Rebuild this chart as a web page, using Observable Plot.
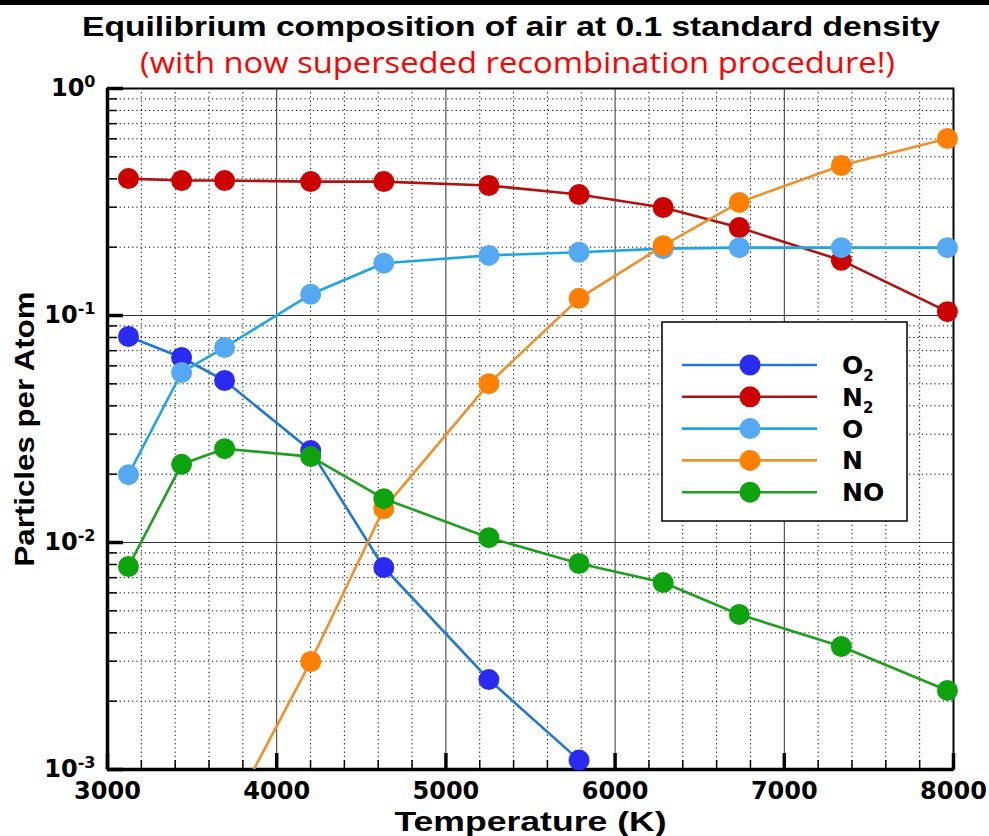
<!DOCTYPE html>
<html><head><meta charset="utf-8">
<script src="https://cdn.jsdelivr.net/npm/d3@7"></script>
<script src="https://cdn.jsdelivr.net/npm/@observablehq/plot@0.6"></script>
<style>
html,body{margin:0;padding:0;background:#fff;}
#wrap{position:relative;width:989px;height:836px;overflow:hidden;}
#bar{position:absolute;left:0;top:0;width:989px;height:5px;background:#000;}
#titles{position:absolute;left:0;top:0;pointer-events:none;}
</style>
</head><body>
<div id="wrap">
<div id="chart"></div>
<div id="bar"></div>
<svg id="titles" width="989" height="90">
  <text x="82" y="36" font-family="Liberation Sans, Arial, sans-serif" font-weight="bold" font-size="28" textLength="858" lengthAdjust="spacingAndGlyphs" fill="#000">Equilibrium composition of air at 0.1 standard density</text>
  <text x="140" y="73" font-family="Open Sans, Noto Sans, sans-serif" font-size="30" textLength="755" lengthAdjust="spacingAndGlyphs" fill="#ff0000">(with now superseded recombination procedure!)</text>
</svg>
</div>
<script>
// ---- data ----
const temps = [3124, 3438, 3692, 4201, 4633, 5254, 5787, 6284, 6734, 7337, 7964];
const o2 = [0.0808, 0.0653, 0.0517, 0.0254, 0.00776, 0.00249, 0.00110];
const n2 = [0.401, 0.393, 0.393, 0.389, 0.389, 0.374, 0.341, 0.299, 0.244, 0.175, 0.104];
const oAtom = [0.0199, 0.0561, 0.0723, 0.124, 0.170, 0.184, 0.190, 0.197, 0.199, 0.199, 0.199];
const nAtom = [null, null, 0.00057, 0.00299, 0.0141, 0.0501, 0.119, 0.203, 0.315, 0.458, 0.602];
const no = [0.00784, 0.0221, 0.0259, 0.0239, 0.0156, 0.0105, 0.00808, 0.00666, 0.00482, 0.00348, 0.00223];
const species = ["O2", "N2", "O", "N", "NO"];
const speciesLabel = [["O", "2"], ["N", "2"], ["O", ""], ["N", ""], ["NO", ""]];
const lineColors = ["#1f78d6", "#b01212", "#1fa6e0", "#f0902a", "#1f9e1f"];
const dotColors = ["#2a2af0", "#cc0000", "#55a8f2", "#ff8000", "#0ea20e"];
const xMajor = [3000, 4000, 5000, 6000, 7000, 8000];
const xMinor = d3.range(3200, 8000, 200).filter(v => v % 1000 !== 0);
const yMajor = [1e-3, 1e-2, 1e-1, 1];
const yMinor = [-3, -2, -1].flatMap(e => [2,3,4,5,6,7,8,9].map(k => k * Math.pow(10, e)));

const seriesVals = [o2, n2, oAtom, nAtom, no];
const rows = [];
seriesVals.forEach((vals, si) => vals.forEach((v, i) => {
  if (v != null) rows.push({species: species[si], T: temps[i], v});
}));

// ---- layout ----
const W = 989, H = 836, mL = 107, mR = 36, mT = 88, mB = 67;
const pw = W - mL - mR, ph = H - mT - mB;
const tickFont = "DejaVu Sans, sans-serif";

const marks = [
  // minor dotted grid
  Plot.ruleX(xMinor, {stroke: "#000", strokeWidth: 1, strokeDasharray: "1.2,3"}),
  Plot.ruleY(yMinor, {stroke: "#000", strokeWidth: 1, strokeDasharray: "1.2,3"}),
  // major solid grid
  Plot.ruleX(xMajor.slice(1, -1), {stroke: "#333", strokeWidth: 1}),
  Plot.ruleY(yMajor.slice(1, -1), {stroke: "#333", strokeWidth: 1}),
  // inward ticks
  Plot.tickX(xMajor, {insetTop: ph - 16, strokeWidth: 3.5, stroke: "#000"}),
  Plot.tickX(xMinor, {insetTop: ph - 9, strokeWidth: 1.5, stroke: "#000"}),
  Plot.tickY(yMajor, {insetRight: pw - 16, strokeWidth: 3.5, stroke: "#000"}),
  Plot.tickY(yMinor, {insetRight: pw - 10, strokeWidth: 1.5, stroke: "#000"}),
  // frame
  Plot.frame({stroke: "#000", strokeWidth: 2}),
  Plot.ruleX([3000], {stroke: "#000", strokeWidth: 3.5}),
  Plot.ruleY([1e-3], {stroke: "#000", strokeWidth: 3.5}),
];
species.forEach((s, i) => {
  const data = rows.filter(r => r.species === s);
  marks.push(Plot.line(data, {x: "T", y: "v", stroke: lineColors[i], strokeWidth: 2.6, clip: true}));
  marks.push(Plot.dot(data.filter(r => r.v >= 1e-3), {x: "T", y: "v", r: 10.5, fill: dotColors[i], stroke: "none"}));
});
marks.push(
  Plot.axisX({ticks: xMajor, tickSize: 0, tickPadding: 12, tickFormat: d => String(d),
    fontSize: 24, fontWeight: "bold", fontFamily: tickFont,
    label: "Temperature (K)", labelAnchor: "center", labelOffset: 61, labelArrow: "none"}),
  Plot.axisY({ticks: yMajor, tickSize: 0, tickPadding: 12,
    tickFormat: d => "10^" + Math.round(Math.log10(d)),
    fontSize: 24, fontWeight: "bold", fontFamily: tickFont,
    label: "Particles per Atom", labelAnchor: "center", labelOffset: 93, labelArrow: "none"})
);

const chart = Plot.plot({
  width: W, height: H,
  marginLeft: mL, marginRight: mR, marginTop: mT, marginBottom: mB,
  style: {background: "transparent", overflow: "visible"},
  x: {domain: [3000, 8000]},
  y: {type: "log", domain: [1e-3, 1]},
  marks
});
document.getElementById("chart").appendChild(chart);

const svg = d3.select(chart);
// superscript exponents on y tick labels
svg.selectAll('g[aria-label="y-axis tick label"] text').each(function() {
  const t = d3.select(this);
  const s = t.text();
  const [base, exp] = s.split("^");
  t.text(null);
  t.append("tspan").text(base);
  t.append("tspan").attr("dy", "-0.55em").attr("font-size", 16).text(exp);
});
// axis label styling
svg.selectAll('g[aria-label="x-axis label"] text, g[aria-label="y-axis label"] text')
  .attr("font-size", 28).attr("font-weight", "bold").attr("font-family", "Liberation Sans, Arial, sans-serif");
svg.select('g[aria-label="x-axis label"] text').attr("textLength", 272).attr("lengthAdjust", "spacingAndGlyphs");
svg.select('g[aria-label="y-axis label"] text').attr("textLength", 275).attr("lengthAdjust", "spacingAndGlyphs");

// legend
const lg = svg.append("g").attr("aria-label", "legend");
lg.append("rect").attr("x", 662).attr("y", 322).attr("width", 245).attr("height", 199)
  .attr("fill", "#fff").attr("stroke", "#000").attr("stroke-width", 1.5);
species.forEach((s, i) => {
  const y = 365 + i * 31.8;
  lg.append("line").attr("x1", 682).attr("x2", 817).attr("y1", y).attr("y2", y)
    .attr("stroke", lineColors[i]).attr("stroke-width", 2.6);
  lg.append("circle").attr("cx", 750).attr("cy", y).attr("r", 10.5).attr("fill", dotColors[i]);
  const t = lg.append("text").attr("x", 842).attr("y", y + 9).attr("text-anchor", "start")
    .attr("font-family", tickFont).attr("font-weight", "bold").attr("font-size", 25).attr("fill", "#000");
  t.append("tspan").text(speciesLabel[i][0]);
  if (speciesLabel[i][1]) t.append("tspan").attr("dy", 7).attr("font-size", 15).text(speciesLabel[i][1]);
});
</script>
</body></html>
